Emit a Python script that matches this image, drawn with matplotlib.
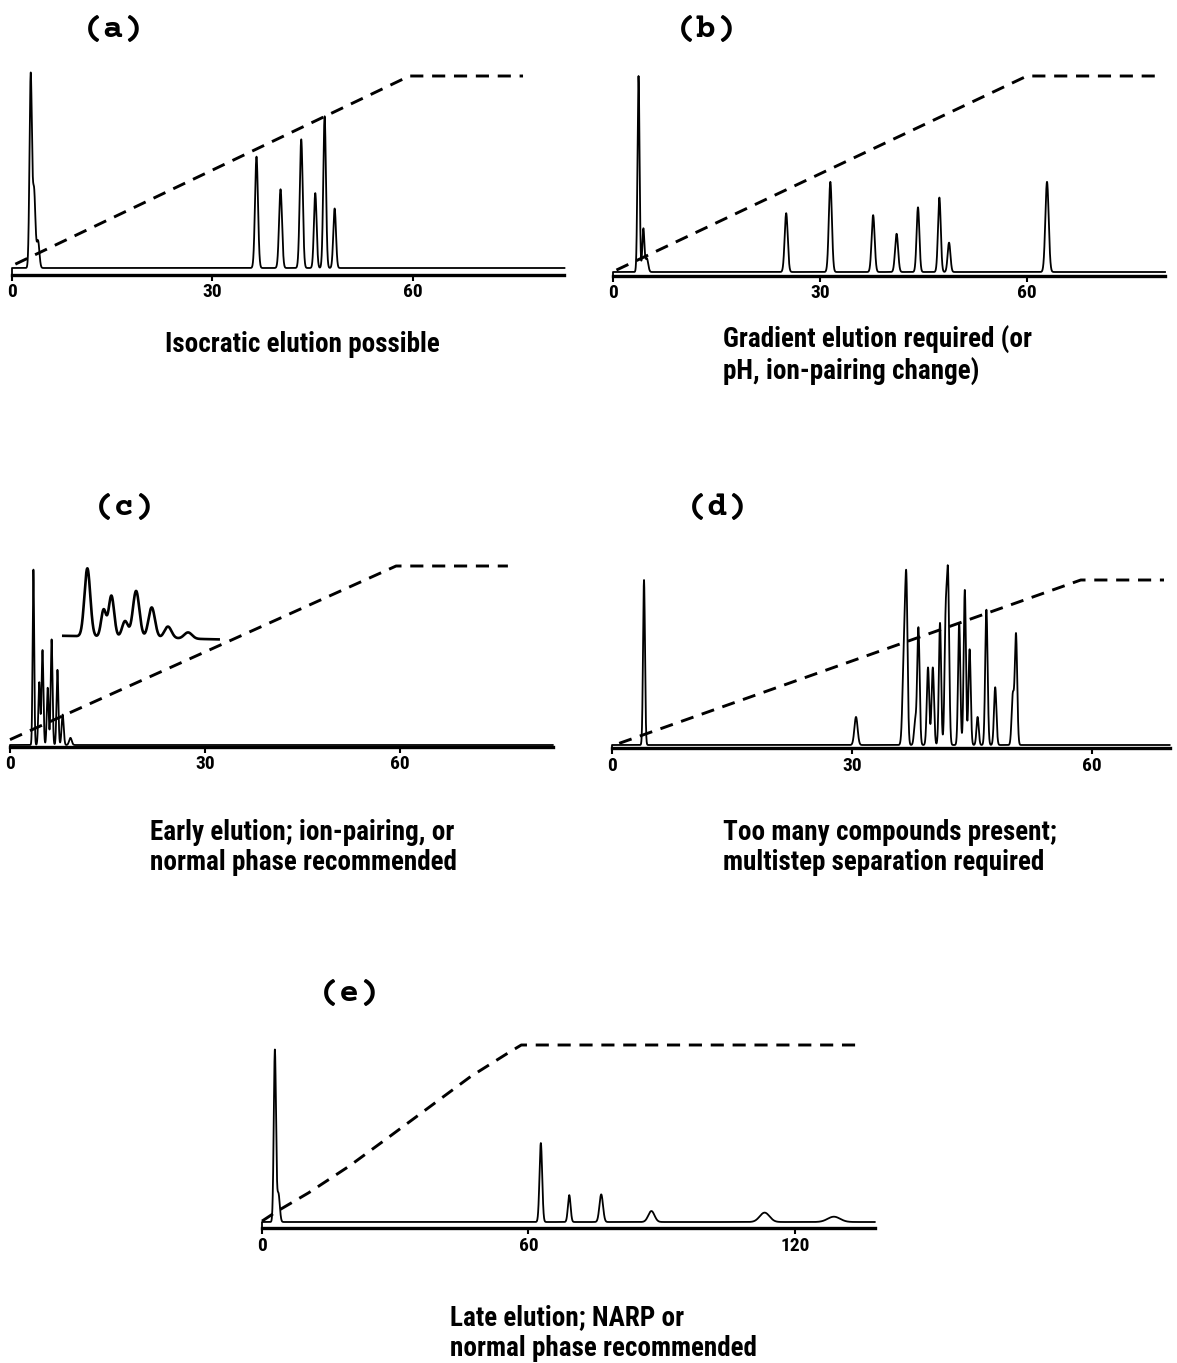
import numpy as np
import matplotlib
matplotlib.use("Agg")
import matplotlib.pyplot as plt

# retention times (min), peak heights (% of full scale), peak widths (sigma, min)
a_times = [2.8, 3.3, 3.9, 36.6, 40.2, 43.3, 45.4, 46.8, 48.3]
a_heights = [100, 40, 14, 58, 41, 67, 39, 79, 31]
a_widths = [0.18, 0.2, 0.2, 0.22, 0.22, 0.22, 0.2, 0.2, 0.2]
a_grad_t = [0.5, 59.5, 76.5]
a_grad_pct = [2, 100, 100]

b_times = [3.7, 4.4, 4.9, 25.1, 31.5, 37.7, 41.1, 44.2, 47.3, 48.7, 62.9]
b_heights = [100, 22, 7, 30, 46, 29, 19.5, 33, 38, 15, 46]
b_widths = [0.15, 0.15, 0.2, 0.22, 0.22, 0.22, 0.22, 0.2, 0.2, 0.2, 0.24]
b_grad_t = [0.5, 60, 79.5]
b_grad_pct = [1, 100, 100]

c_times = [3.6, 4.5, 5.0, 5.8, 6.4, 7.3, 8.1, 9.3]
c_heights = [98, 35, 53, 32, 59, 42, 17, 4]
c_widths = [0.12, 0.14, 0.14, 0.14, 0.14, 0.14, 0.16, 0.2]
c_grad_t = [0, 59.4, 76.6]
c_grad_pct = [3, 100, 100]
# magnified view of the early-eluting cluster
c_inset_times = [11.9, 14.4, 15.6, 17.7, 19.4, 21.8, 24.3, 27.4]
c_inset_heights = [38, 15, 23, 9, 26, 17, 6.5, 3.5]
c_inset_widths = [0.45, 0.38, 0.42, 0.45, 0.5, 0.5, 0.55, 0.6]
c_inset_span = [8.2, 32.1]
c_inset_base = [61, 59]

d_times = [4.0, 30.5, 36.5, 36.8, 37.9, 38.3, 39.5, 40.1, 41.0, 41.7, 42.0,
           43.4, 44.1, 44.7, 45.7, 46.8, 47.9, 50.1, 50.5]
d_heights = [100, 17, 55, 90, 14, 71, 47, 47, 74, 70, 100,
             74, 94, 58, 17, 82, 35, 30, 67]
d_widths = [0.12, 0.2, 0.18, 0.15, 0.15, 0.15, 0.15, 0.15, 0.14, 0.14, 0.15,
            0.14, 0.14, 0.14, 0.14, 0.15, 0.15, 0.15, 0.15]
d_grad_t = [0.9, 58.6, 69]
d_grad_pct = [1, 100, 100]

e_times = [2.9, 3.7, 62.8, 69.2, 76.4, 87.7, 113.2, 128.8]
e_heights = [97, 16, 44.6, 15.2, 15.6, 6.2, 5.3, 3]
e_widths = [0.25, 0.3, 0.3, 0.3, 0.4, 0.7, 1.1, 1.4]
e_grad_t = [0, 2.3, 4.1, 10.5, 19.6, 28.8, 37.9, 47.0, 55.3, 58.4, 134.7]
e_grad_pct = [0.5, 4.3, 7.1, 16.5, 31.5, 48.4, 65.3, 82.2, 95.3, 100, 100]

W, H = 1177, 1363
fig = plt.figure(figsize=(W / 100, H / 100), dpi=100)

LABEL_FONT = ['Roboto Condensed', 'DejaVu Sans']
TITLE_FONT = ['Courier Prime', 'Liberation Mono']


def chrom(t, times, heights, widths):
    y = np.zeros_like(t)
    for t0, h, w in zip(times, heights, widths):
        y += h * np.exp(-0.5 * ((t - t0) / w) ** 2)
    return y


def make_panel(x0, kx, base, ky, tmax, axis_off, ticks):
    # x0/base: pixel position of t=0 and of the signal baseline
    xa, xb = -3, tmax + 2
    ya, yb = -12, 110
    rect = [(x0 + xa * kx) / W, 1 - (base - ya * ky) / H,
            (xb - xa) * kx / W, (yb - ya) * ky / H]
    ax = fig.add_axes(rect)
    ax.set_xlim(xa, xb)
    ax.set_ylim(ya, yb)
    ax.patch.set_alpha(0)
    for s in ['top', 'right', 'left']:
        ax.spines[s].set_visible(False)
    ax.spines['bottom'].set_position(('data', -axis_off))
    ax.spines['bottom'].set_bounds(0, tmax)
    ax.spines['bottom'].set_linewidth(2.4)
    ax.set_yticks([])
    ax.set_xticks(ticks)
    ax.set_xticklabels([str(v) for v in ticks], family=LABEL_FONT,
                       stretch='condensed', fontweight='bold', fontsize=14)
    ax.tick_params(axis='x', length=4, width=1.5, pad=2)
    return ax


def draw(ax, tmax, axis_off, times, heights, widths, grad_t, grad_pct):
    t = np.linspace(0, tmax, 12000)
    y = chrom(t, times, heights, widths)
    ax.plot(np.r_[0, t], np.r_[-axis_off, y], color='black', lw=1.3)
    ax.plot(grad_t, grad_pct, color='black', lw=2.1, dashes=(4.5, 3))


panels = [
    # x0, kx, base, ky, tmax, axis_off, ticks, data
    (12, 6.68, 268, 1.92, 82.7, 3.5, [0, 30, 60],
     (a_times, a_heights, a_widths, a_grad_t, a_grad_pct)),
    (613, 6.9, 272, 1.96, 80, 2, [0, 30, 60],
     (b_times, b_heights, b_widths, b_grad_t, b_grad_pct)),
    (10, 6.5, 745, 1.79, 83.5, 1, [0, 30, 60],
     (c_times, c_heights, c_widths, c_grad_t, c_grad_pct)),
    (612, 8.0, 745, 1.65, 69.7, 2, [0, 30, 60],
     (d_times, d_heights, d_widths, d_grad_t, d_grad_pct)),
    (262, 4.44, 1222, 1.77, 138, 3.5, [0, 60, 120],
     (e_times, e_heights, e_widths, e_grad_t, e_grad_pct)),
]

axes = []
for x0, kx, base, ky, tmax, off, ticks, data in panels:
    ax = make_panel(x0, kx, base, ky, tmax, off, ticks)
    draw(ax, tmax, off, *data)
    axes.append(ax)

# inset trace in panel (c)
ti = np.linspace(c_inset_span[0], c_inset_span[1], 3000)
yi = np.interp(ti, c_inset_span, c_inset_base) + chrom(ti, c_inset_times, c_inset_heights, c_inset_widths)
axes[2].plot(ti, yi, color='black', lw=1.9)


def ftext(x, y, s, **kw):
    fig.text(x / W, 1 - y / H, s, **kw)


for x, y, s in [(114, 29, '(a)'), (707, 29, '(b)'), (125, 508, '(c)'),
                (718, 508, '(d)'), (350, 994, '(e)')]:
    ftext(x, y, s, family=TITLE_FONT, fontweight='bold', fontsize=24,
          ha='center', va='center')

cap = dict(family=LABEL_FONT, stretch='condensed', fontweight='bold',
           fontsize=19.5, va='center')
ftext(302, 344, 'Isocratic elution possible', ha='center', **cap)
ftext(723, 340, 'Gradient elution required (or', ha='left', **cap)
ftext(723, 372, 'pH, ion-pairing change)', ha='left', **cap)
ftext(150, 832, 'Early elution; ion-pairing, or', ha='left', **cap)
ftext(150, 863, 'normal phase recommended', ha='left', **cap)
ftext(723, 832, 'Too many compounds present;', ha='left', **cap)
ftext(723, 862, 'multistep separation required', ha='left', **cap)
ftext(450, 1318, 'Late elution; NARP or', ha='left', **cap)
ftext(450, 1348, 'normal phase recommended', ha='left', **cap)

fig.savefig('out.png', dpi=100)
